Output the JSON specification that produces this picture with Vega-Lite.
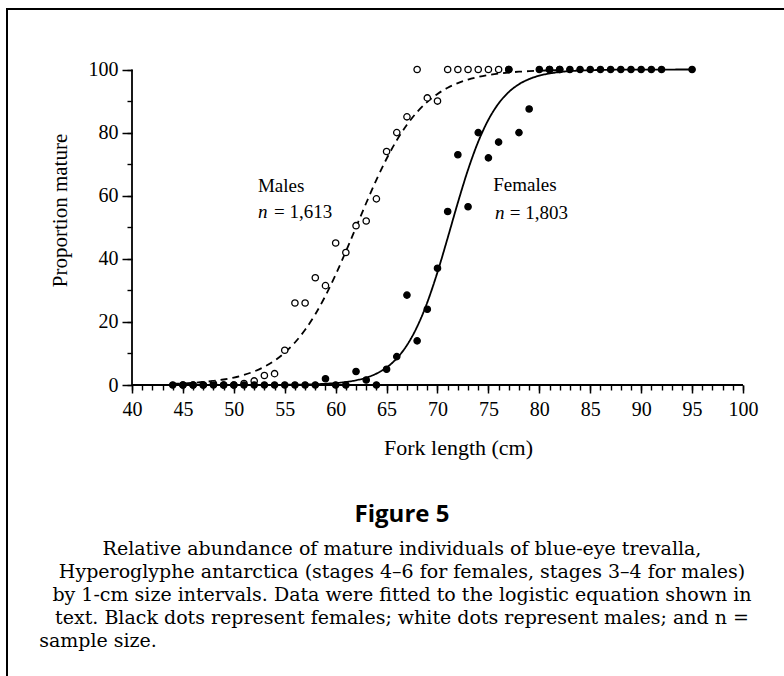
{
  "$schema": "https://vega.github.io/schema/vega-lite/v6.json",
  "width": 780,
  "height": 670,
  "autosize": {"type": "none"},
  "padding": {"left": 7, "top": 9, "right": -3, "bottom": -3},
  "background": "white",
  "config": {
    "view": {"stroke": "black", "strokeWidth": 2},
    "axis": {"grid": false, "domain": false, "tickColor": "black", "labelColor": "black", "titleColor": "black", "labelOverlap": false, "labelFlush": false, "labelBound": false}
  },
  "title": {
    "text": "Figure 5",
    "subtitle": [
      "Relative abundance of mature individuals of blue-eye trevalla,",
      "Hyperoglyphe antarctica (stages 4–6 for females, stages 3–4 for males)",
      "by 1-cm size intervals. Data were fitted to the logistic equation shown in",
      "text. Black dots represent females; white dots represent males; and n =",
      "sample size.\u2003\u2003\u2003\u2003\u2003\u2003\u2003\u2003\u2003\u2003\u2003\u2003\u2003\u2003\u2003\u2003\u2003\u2003\u2003\u2003\u2003\u2003\u2003\u2003\u2003\u2003\u2003\u2003\u2003\u2003\u2003\u2003\u200b"
    ],
    "orient": "bottom",
    "anchor": "middle",
    "frame": "group",
    "offset": -176,
    "dx": 5,
    "font": "Open Sans",
    "fontWeight": "bold",
    "fontSize": 24,
    "color": "black",
    "subtitleFont": "DejaVu Serif",
    "subtitleFontSize": 19,
    "subtitleColor": "black",
    "subtitleLineHeight": 23,
    "subtitlePadding": 13
  },
  "datasets": {
    "points": [
      {"len": 45, "pct": 0, "sex": "Males"},
      {"len": 46, "pct": 0, "sex": "Males"},
      {"len": 47, "pct": 0, "sex": "Males"},
      {"len": 48, "pct": 0.4, "sex": "Males"},
      {"len": 49, "pct": 0, "sex": "Males"},
      {"len": 50, "pct": 0, "sex": "Males"},
      {"len": 51, "pct": 0.5, "sex": "Males"},
      {"len": 52, "pct": 1.3, "sex": "Males"},
      {"len": 53, "pct": 3, "sex": "Males"},
      {"len": 54, "pct": 3.6, "sex": "Males"},
      {"len": 55, "pct": 11, "sex": "Males"},
      {"len": 56, "pct": 26, "sex": "Males"},
      {"len": 57, "pct": 26, "sex": "Males"},
      {"len": 58, "pct": 34, "sex": "Males"},
      {"len": 59, "pct": 31.5, "sex": "Males"},
      {"len": 60, "pct": 45, "sex": "Males"},
      {"len": 61, "pct": 42, "sex": "Males"},
      {"len": 62, "pct": 50.5, "sex": "Males"},
      {"len": 63, "pct": 52, "sex": "Males"},
      {"len": 64, "pct": 59, "sex": "Males"},
      {"len": 65, "pct": 74, "sex": "Males"},
      {"len": 66, "pct": 80, "sex": "Males"},
      {"len": 67, "pct": 85, "sex": "Males"},
      {"len": 68, "pct": 100, "sex": "Males"},
      {"len": 69, "pct": 91, "sex": "Males"},
      {"len": 70, "pct": 90, "sex": "Males"},
      {"len": 71, "pct": 100, "sex": "Males"},
      {"len": 72, "pct": 100, "sex": "Males"},
      {"len": 73, "pct": 100, "sex": "Males"},
      {"len": 74, "pct": 100, "sex": "Males"},
      {"len": 75, "pct": 100, "sex": "Males"},
      {"len": 76, "pct": 100, "sex": "Males"},
      {"len": 77, "pct": 100, "sex": "Males"},
      {"len": 81, "pct": 100, "sex": "Males"},
      {"len": 82, "pct": 100, "sex": "Males"},
      {"len": 44, "pct": 0, "sex": "Females"},
      {"len": 45, "pct": 0, "sex": "Females"},
      {"len": 46, "pct": 0, "sex": "Females"},
      {"len": 47, "pct": 0, "sex": "Females"},
      {"len": 48, "pct": 0, "sex": "Females"},
      {"len": 49, "pct": 0, "sex": "Females"},
      {"len": 50, "pct": 0, "sex": "Females"},
      {"len": 51, "pct": 0, "sex": "Females"},
      {"len": 52, "pct": 0, "sex": "Females"},
      {"len": 53, "pct": 0, "sex": "Females"},
      {"len": 54, "pct": 0, "sex": "Females"},
      {"len": 55, "pct": 0, "sex": "Females"},
      {"len": 56, "pct": 0, "sex": "Females"},
      {"len": 57, "pct": 0, "sex": "Females"},
      {"len": 58, "pct": 0, "sex": "Females"},
      {"len": 59, "pct": 2, "sex": "Females"},
      {"len": 60, "pct": 0, "sex": "Females"},
      {"len": 61, "pct": 0, "sex": "Females"},
      {"len": 62, "pct": 4.3, "sex": "Females"},
      {"len": 63, "pct": 1.6, "sex": "Females"},
      {"len": 64, "pct": 0, "sex": "Females"},
      {"len": 65, "pct": 5, "sex": "Females"},
      {"len": 66, "pct": 9, "sex": "Females"},
      {"len": 67, "pct": 28.5, "sex": "Females"},
      {"len": 68, "pct": 14, "sex": "Females"},
      {"len": 69, "pct": 24, "sex": "Females"},
      {"len": 70, "pct": 37, "sex": "Females"},
      {"len": 71, "pct": 55, "sex": "Females"},
      {"len": 72, "pct": 73, "sex": "Females"},
      {"len": 73, "pct": 56.5, "sex": "Females"},
      {"len": 74, "pct": 80, "sex": "Females"},
      {"len": 75, "pct": 72, "sex": "Females"},
      {"len": 76, "pct": 77, "sex": "Females"},
      {"len": 77, "pct": 100, "sex": "Females"},
      {"len": 78, "pct": 80, "sex": "Females"},
      {"len": 79, "pct": 87.5, "sex": "Females"},
      {"len": 80, "pct": 100, "sex": "Females"},
      {"len": 81, "pct": 100, "sex": "Females"},
      {"len": 82, "pct": 100, "sex": "Females"},
      {"len": 83, "pct": 100, "sex": "Females"},
      {"len": 84, "pct": 100, "sex": "Females"},
      {"len": 85, "pct": 100, "sex": "Females"},
      {"len": 86, "pct": 100, "sex": "Females"},
      {"len": 87, "pct": 100, "sex": "Females"},
      {"len": 88, "pct": 100, "sex": "Females"},
      {"len": 89, "pct": 100, "sex": "Females"},
      {"len": 90, "pct": 100, "sex": "Females"},
      {"len": 91, "pct": 100, "sex": "Females"},
      {"len": 92, "pct": 100, "sex": "Females"},
      {"len": 95, "pct": 100, "sex": "Females"}
    ],
    "curves": [
      {"len": 44, "pct": 0.38, "sex": "Males"},
      {"len": 45, "pct": 0.51, "sex": "Males"},
      {"len": 46, "pct": 0.7, "sex": "Males"},
      {"len": 47, "pct": 0.95, "sex": "Males"},
      {"len": 48, "pct": 1.29, "sex": "Males"},
      {"len": 49, "pct": 1.75, "sex": "Males"},
      {"len": 50, "pct": 2.37, "sex": "Males"},
      {"len": 51, "pct": 3.2, "sex": "Males"},
      {"len": 52, "pct": 4.31, "sex": "Males"},
      {"len": 53, "pct": 5.79, "sex": "Males"},
      {"len": 54, "pct": 7.73, "sex": "Males"},
      {"len": 55, "pct": 10.25, "sex": "Males"},
      {"len": 56, "pct": 13.47, "sex": "Males"},
      {"len": 57, "pct": 17.51, "sex": "Males"},
      {"len": 58, "pct": 22.44, "sex": "Males"},
      {"len": 59, "pct": 28.29, "sex": "Males"},
      {"len": 60, "pct": 34.98, "sex": "Males"},
      {"len": 61, "pct": 42.31, "sex": "Males"},
      {"len": 62, "pct": 50, "sex": "Males"},
      {"len": 63, "pct": 57.69, "sex": "Males"},
      {"len": 64, "pct": 65.02, "sex": "Males"},
      {"len": 65, "pct": 71.71, "sex": "Males"},
      {"len": 66, "pct": 77.56, "sex": "Males"},
      {"len": 67, "pct": 82.49, "sex": "Males"},
      {"len": 68, "pct": 86.53, "sex": "Males"},
      {"len": 69, "pct": 89.75, "sex": "Males"},
      {"len": 70, "pct": 92.27, "sex": "Males"},
      {"len": 71, "pct": 94.21, "sex": "Males"},
      {"len": 72, "pct": 95.69, "sex": "Males"},
      {"len": 73, "pct": 96.8, "sex": "Males"},
      {"len": 74, "pct": 97.63, "sex": "Males"},
      {"len": 75, "pct": 98.25, "sex": "Males"},
      {"len": 76, "pct": 98.71, "sex": "Males"},
      {"len": 77, "pct": 99.05, "sex": "Males"},
      {"len": 78, "pct": 99.3, "sex": "Males"},
      {"len": 79, "pct": 99.49, "sex": "Males"},
      {"len": 80, "pct": 99.62, "sex": "Males"},
      {"len": 81, "pct": 99.72, "sex": "Males"},
      {"len": 82, "pct": 99.79, "sex": "Males"},
      {"len": 50, "pct": 0.01, "sex": "Females"},
      {"len": 52, "pct": 0.02, "sex": "Females"},
      {"len": 54, "pct": 0.04, "sex": "Females"},
      {"len": 55, "pct": 0.07, "sex": "Females"},
      {"len": 56, "pct": 0.1, "sex": "Females"},
      {"len": 57, "pct": 0.16, "sex": "Females"},
      {"len": 58, "pct": 0.25, "sex": "Females"},
      {"len": 59, "pct": 0.39, "sex": "Females"},
      {"len": 60, "pct": 0.62, "sex": "Females"},
      {"len": 61, "pct": 0.96, "sex": "Females"},
      {"len": 62, "pct": 1.5, "sex": "Females"},
      {"len": 63, "pct": 2.33, "sex": "Females"},
      {"len": 64, "pct": 3.61, "sex": "Females"},
      {"len": 65, "pct": 5.55, "sex": "Females"},
      {"len": 66, "pct": 8.43, "sex": "Females"},
      {"len": 67, "pct": 12.62, "sex": "Females"},
      {"len": 68, "pct": 18.47, "sex": "Females"},
      {"len": 69, "pct": 26.21, "sex": "Females"},
      {"len": 70, "pct": 35.78, "sex": "Females"},
      {"len": 71, "pct": 46.63, "sex": "Females"},
      {"len": 72, "pct": 57.81, "sex": "Females"},
      {"len": 73, "pct": 68.25, "sex": "Females"},
      {"len": 74, "pct": 77.12, "sex": "Females"},
      {"len": 75, "pct": 84.09, "sex": "Females"},
      {"len": 76, "pct": 89.24, "sex": "Females"},
      {"len": 77, "pct": 92.86, "sex": "Females"},
      {"len": 78, "pct": 95.33, "sex": "Females"},
      {"len": 79, "pct": 96.97, "sex": "Females"},
      {"len": 80, "pct": 98.05, "sex": "Females"},
      {"len": 81, "pct": 98.75, "sex": "Females"},
      {"len": 82, "pct": 99.2, "sex": "Females"},
      {"len": 83, "pct": 99.49, "sex": "Females"},
      {"len": 84, "pct": 99.67, "sex": "Females"},
      {"len": 85, "pct": 99.79, "sex": "Females"},
      {"len": 86, "pct": 99.87, "sex": "Females"},
      {"len": 88, "pct": 99.95, "sex": "Females"},
      {"len": 90, "pct": 99.98, "sex": "Females"},
      {"len": 95, "pct": 100, "sex": "Females"}
    ],
    "labels": [
      {"len": 52.37, "pct": 63.1, "label": "Males", "part": "name"},
      {"len": 52.37, "pct": 54.8, "label": "n", "part": "var"},
      {"len": 53.95, "pct": 54.8, "label": "= 1,613", "part": "value"},
      {"len": 75.48, "pct": 63.4, "label": "Females", "part": "name"},
      {"len": 75.65, "pct": 54.5, "label": "n", "part": "var"},
      {"len": 77.1, "pct": 54.5, "label": "= 1,803", "part": "value"}
    ]
  },
  "resolve": {"axis": {"x": "independent", "y": "independent"}},
  "layer": [
    {
      "data": {"values": [{}]},
      "mark": {"type": "rule", "color": "black", "strokeWidth": 1.8},
      "encoding": {
        "x": {
          "datum": 40, "type": "quantitative",
          "scale": {"domain": [27.725, 104.321], "nice": false, "zero": false},
          "axis": {
            "orient": "bottom", "offset": -294, "title": null, "labels": false,
            "values": [40,41,42,43,44,45,46,47,48,49,50,51,52,53,54,55,56,57,58,59,60,61,62,63,64,65,66,67,68,69,70,71,72,73,74,75,76,77,78,79,80,81,82,83,84,85,86,87,88,89,90,91,92,93,94,95,96,97,98,99,100],
            "tickSize": 5, "tickWidth": 1.4
          }
        },
        "x2": {"datum": 100},
        "y": {"datum": 0, "type": "quantitative", "scale": {"domain": [-93.18, 119.18], "nice": false, "zero": false}, "axis": null}
      }
    },
    {
      "data": {"values": [{}]},
      "mark": {"type": "rule", "color": "black", "strokeWidth": 1.8},
      "encoding": {
        "x": {"datum": 40, "type": "quantitative", "scale": {"domain": [27.725, 104.321], "nice": false, "zero": false}, "axis": null},
        "y": {
          "datum": 0, "type": "quantitative",
          "scale": {"domain": [-93.18, 119.18], "nice": false, "zero": false},
          "axis": {
            "orient": "left", "offset": -125, "title": null, "labels": false,
            "values": [0,10,20,30,40,50,60,70,80,90,100],
            "tickSize": 5, "tickWidth": 1.4
          }
        },
        "y2": {"datum": 100}
      }
    },
    {
      "data": {"name": "curves"},
      "mark": {"type": "line", "color": "black", "strokeWidth": 1.8, "interpolate": "monotone"},
      "encoding": {
        "x": {"field": "len", "type": "quantitative", "scale": {"domain": [27.725, 104.321], "nice": false, "zero": false}, "axis": null},
        "y": {"field": "pct", "type": "quantitative", "scale": {"domain": [-93.18, 119.18], "nice": false, "zero": false}, "axis": null},
        "strokeDash": {"field": "sex", "type": "nominal", "scale": {"domain": ["Females", "Males"], "range": [[1, 0], [7, 5]]}, "legend": null}
      }
    },
    {
      "data": {"name": "points"},
      "mark": {"type": "circle", "stroke": "black", "strokeWidth": 1.3, "size": 40, "opacity": 1},
      "encoding": {
        "x": {
          "field": "len", "type": "quantitative",
          "scale": {"domain": [27.725, 104.321], "nice": false, "zero": false},
          "axis": {
            "orient": "bottom",
            "title": "Fork length (cm)",
            "values": [40,45,50,55,60,65,70,75,80,85,90,95,100],
            "format": "d",
            "offset": -294,
            "tickWidth": 1.5, "tickSize": 8,
            "labelFont": "Liberation Serif", "labelFontSize": 20, "labelPadding": 6,
            "titleFont": "Liberation Serif", "titleFontSize": 22, "titleFontWeight": "normal",
            "titleX": 451, "titleY": 62, "titleBaseline": "middle", "titleAlign": "center"
          }
        },
        "y": {
          "field": "pct", "type": "quantitative",
          "scale": {"domain": [-93.18, 119.18], "nice": false, "zero": false},
          "axis": {
            "orient": "left",
            "title": "Proportion mature",
            "values": [0,20,40,60,80,100],
            "format": "d",
            "offset": -125,
            "tickWidth": 1.5, "tickSize": 10,
            "labelFont": "Liberation Serif", "labelFontSize": 20, "labelPadding": 4,
            "titleFont": "Liberation Serif", "titleFontSize": 21, "titleFontWeight": "normal",
            "titleX": -72, "titleY": 201, "titleAngle": -90, "titleBaseline": "middle", "titleAlign": "center"
          }
        },
        "fill": {"field": "sex", "type": "nominal", "scale": {"domain": ["Females", "Males"], "range": ["black", "white"]}, "legend": null}
      }
    },
    {
      "data": {"name": "labels"},
      "transform": [{"filter": "datum.part !== 'var'"}],
      "mark": {"type": "text", "font": "Liberation Serif", "fontSize": 19, "align": "left", "baseline": "middle", "color": "black"},
      "encoding": {
        "x": {"field": "len", "type": "quantitative", "scale": {"domain": [27.725, 104.321], "nice": false, "zero": false}, "axis": null},
        "y": {"field": "pct", "type": "quantitative", "scale": {"domain": [-93.18, 119.18], "nice": false, "zero": false}, "axis": null},
        "text": {"field": "label"}
      }
    },
    {
      "data": {"name": "labels"},
      "transform": [{"filter": "datum.part === 'var'"}],
      "mark": {"type": "text", "font": "Liberation Serif", "fontSize": 19, "fontStyle": "italic", "align": "left", "baseline": "middle", "color": "black"},
      "encoding": {
        "x": {"field": "len", "type": "quantitative", "scale": {"domain": [27.725, 104.321], "nice": false, "zero": false}, "axis": null},
        "y": {"field": "pct", "type": "quantitative", "scale": {"domain": [-93.18, 119.18], "nice": false, "zero": false}, "axis": null},
        "text": {"field": "label"}
      }
    }
  ]
}
